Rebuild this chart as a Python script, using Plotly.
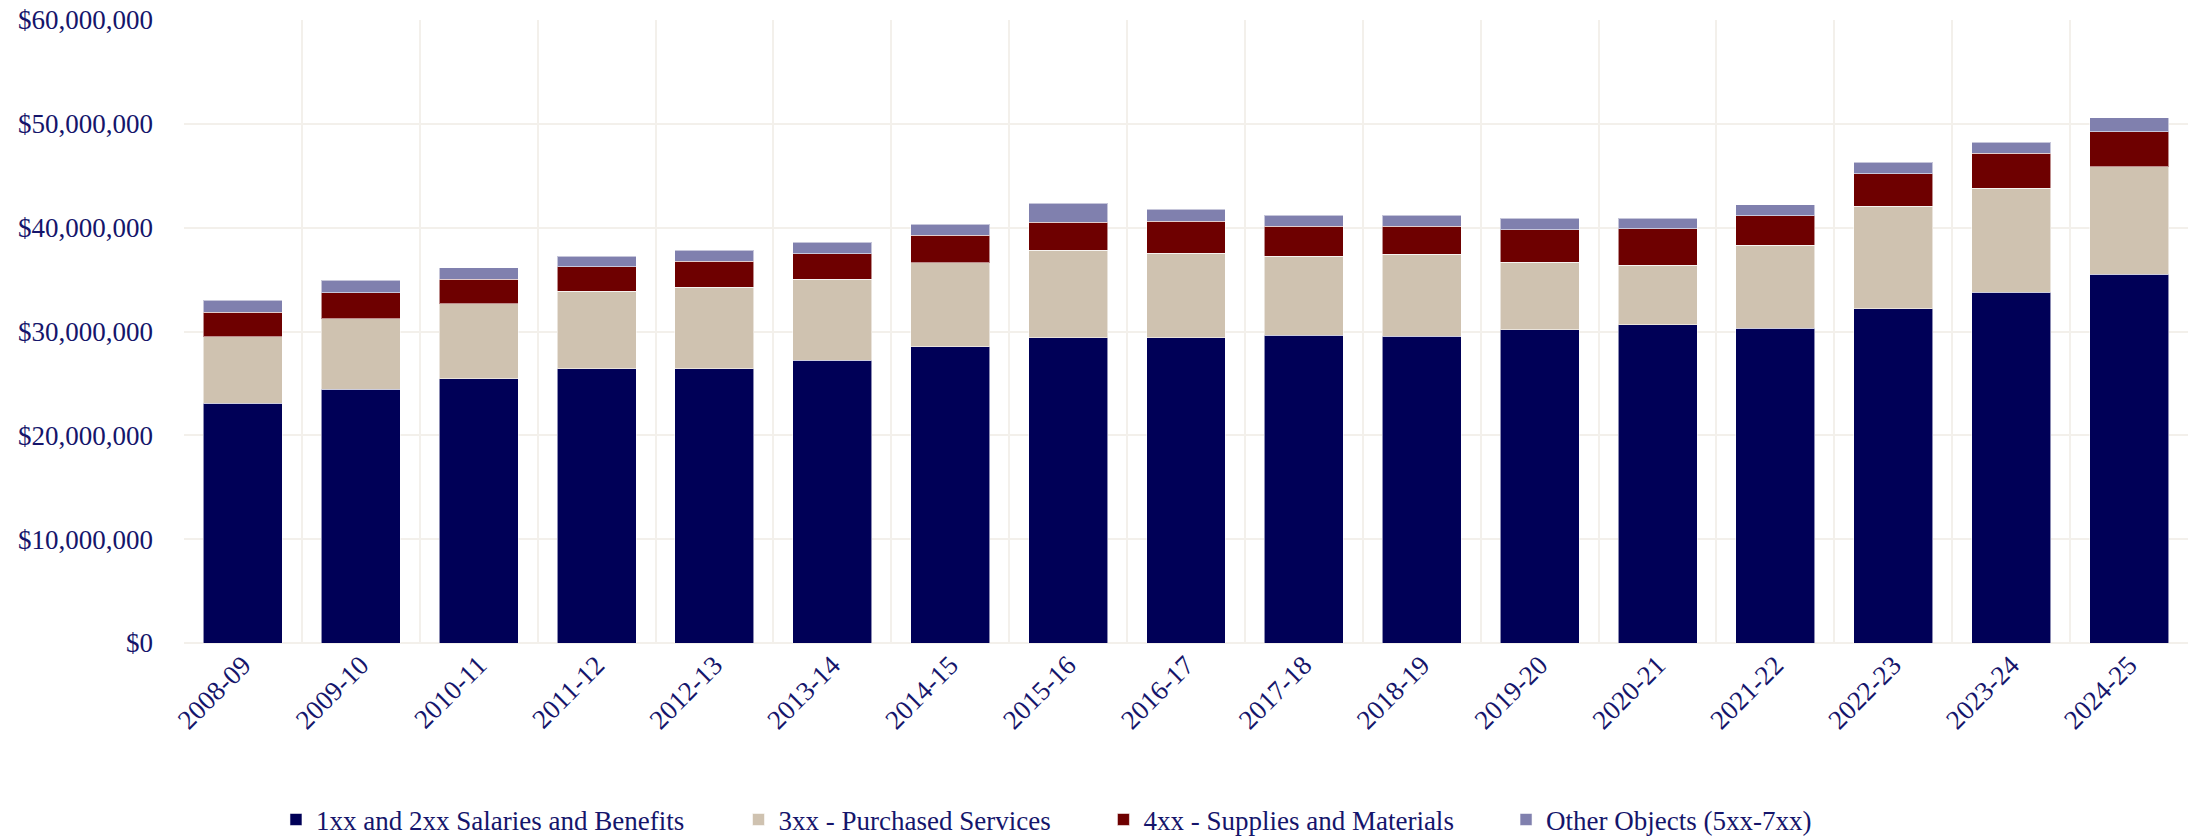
import plotly.graph_objects as go

years = ["2008-09", "2009-10", "2010-11", "2011-12", "2012-13", "2013-14", "2014-15",
         "2015-16", "2016-17", "2017-18", "2018-19", "2019-20", "2020-21", "2021-22",
         "2022-23", "2023-24", "2024-25"]

salaries = [23.09, 24.44, 25.43, 26.39, 26.42, 27.23, 28.54, 29.41, 29.41, 29.66,
            29.54, 30.15, 30.63, 30.31, 32.17, 33.80, 35.50]
purchased = [6.41, 6.79, 7.22, 7.51, 7.83, 7.79, 8.08, 8.40, 8.14, 7.61,
             7.89, 6.51, 5.74, 7.99, 9.91, 10.01, 10.36]
supplies = [2.35, 2.51, 2.40, 2.34, 2.53, 2.47, 2.67, 2.73, 3.08, 2.85,
            2.72, 3.14, 3.52, 2.84, 3.11, 3.34, 3.37]
other = [1.15, 1.19, 1.09, 1.03, 1.03, 1.09, 1.02, 1.79, 1.13, 1.06,
         1.06, 1.12, 1.03, 1.06, 1.12, 1.06, 1.38]

series_names = ["1xx and 2xx Salaries and Benefits", "3xx - Purchased Services",
                "4xx - Supplies and Materials", "Other Objects (5xx-7xx)"]
series_values = [salaries, purchased, supplies, other]
colors = ["#000057", "#CFC2B0", "#6E0000", "#8080AE"]

y_ticks = [0, 10_000_000, 20_000_000, 30_000_000, 40_000_000, 50_000_000, 60_000_000]
y_tick_labels = ["$0", "$10,000,000", "$20,000,000", "$30,000,000", "$40,000,000",
                 "$50,000,000", "$60,000,000"]

FONT = "Liberation Serif"
TEXT = "#15156B"
GRID = "#F3F0EB"

legend_ids = ["legend", "legend2", "legend3", "legend4"]
legend_x = [0.0459, 0.2767, 0.4588, 0.6597]

fig = go.Figure()
for name, vals, col, lid in zip(series_names, series_values, colors, legend_ids):
    fig.add_trace(go.Bar(
        x=years, y=[v * 1_000_000 for v in vals], name=name, legend=lid, showlegend=True,
        marker=dict(color=col, line=dict(color="rgba(255,255,255,0.55)", width=1)),
    ))

legend_common = dict(orientation="h", xanchor="left", y=-0.284, yanchor="middle",
                     bgcolor="rgba(0,0,0,0)", visible=True,
                     font=dict(family=FONT, size=27, color=TEXT))

fig.update_layout(
    barmode="stack",
    bargap=0.33,
    showlegend=True,
    width=2199, height=837,
    margin=dict(l=184, r=11, t=20, b=194, autoexpand=False),
    paper_bgcolor="white", plot_bgcolor="white",
    font=dict(family=FONT, size=27, color=TEXT),
    xaxis=dict(type="category", tickangle=-45, showgrid=True, gridcolor=GRID, gridwidth=2,
               tickson="boundaries", ticks="outside", ticklen=20, tickcolor="rgba(0,0,0,0)",
               showline=False, zeroline=False, automargin=False,
               tickfont=dict(family=FONT, size=27, color=TEXT)),
    yaxis=dict(range=[0, 60_000_000], tickvals=y_ticks, ticktext=y_tick_labels,
               showgrid=True, gridcolor=GRID, gridwidth=2, zeroline=True,
               zerolinecolor=GRID, zerolinewidth=2, ticklabelstandoff=30, automargin=False,
               tickfont=dict(family=FONT, size=27, color=TEXT)),
)
for lid, lx in zip(legend_ids, legend_x):
    fig.update_layout({lid: dict(x=lx, **legend_common)})

fig.write_html("out.html", config={"displayModeBar": False},
               post_script="document.body.style.margin='0';document.body.style.overflow='hidden';")
